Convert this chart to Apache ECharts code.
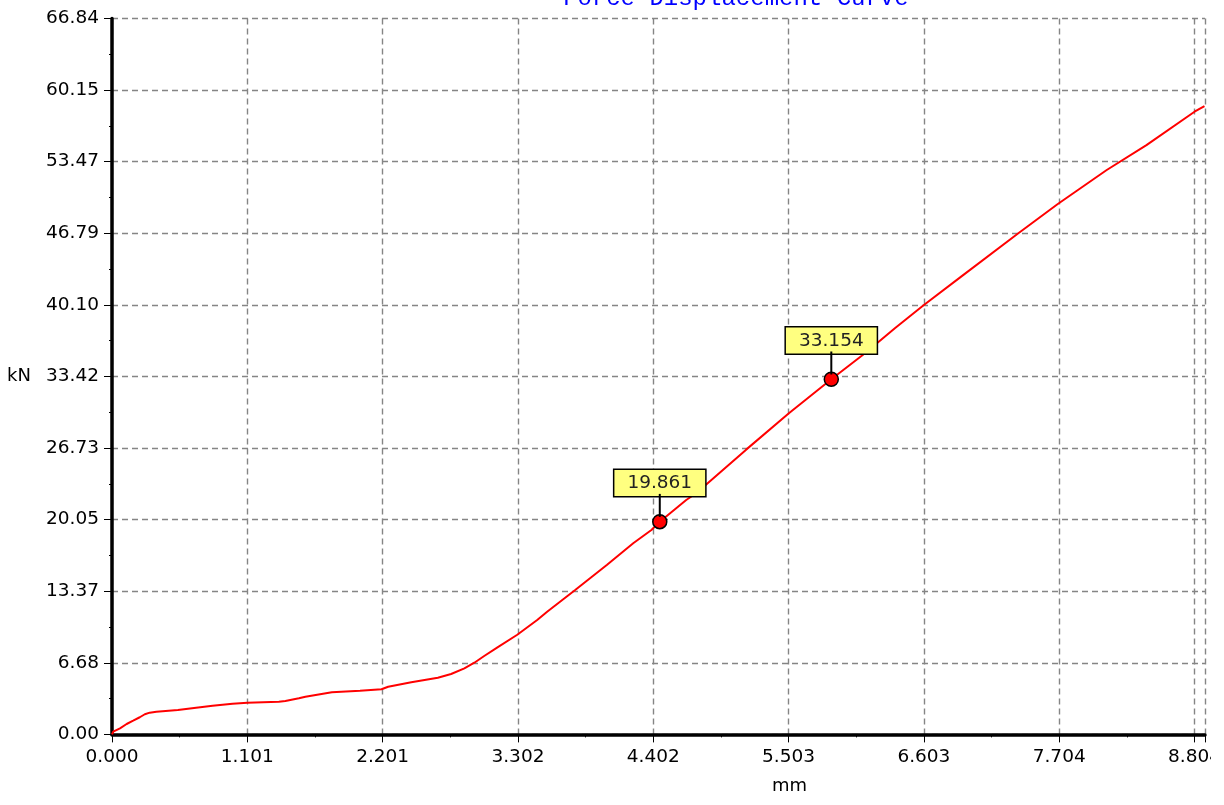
<!DOCTYPE html>
<html>
<head>
<meta charset="utf-8">
<script src="https://cdn.jsdelivr.net/npm/echarts@6/dist/echarts.min.js"></script>
<style>
html,body{margin:0;padding:0;background:#fff;}
#chart{width:1224px;height:805px;}
</style>
</head>
<body>
<div id="chart"></div>
<script>
// Displacement (mm) and force (kN)
const displacement = [0, 0.01, 0.065, 0.119, 0.172, 0.226, 0.267, 0.307, 0.361, 0.536, 0.684, 0.818, 0.98, 1.101,
  1.357, 1.41, 1.52, 1.573, 1.788, 2.017, 2.192, 2.246, 2.434, 2.65, 2.758, 2.866, 2.947, 3.027, 3.135,
  3.296, 3.458, 3.539, 3.767, 4.024, 4.239, 4.387, 4.455, 4.670, 4.751, 5.155, 5.505, 5.850, 6.124,
  6.367, 6.603, 6.906, 7.363, 7.692, 8.090, 8.413, 8.804, 8.885];
const force = [0, 0.25, 0.57, 0.97, 1.28, 1.60, 1.88, 2.03, 2.12, 2.28, 2.49, 2.68, 2.87, 2.96,
  3.05, 3.12, 3.37, 3.52, 3.93, 4.08, 4.21, 4.45, 4.86, 5.29, 5.64, 6.17, 6.69, 7.32, 8.13,
  9.30, 10.68, 11.45, 13.48, 15.81, 17.84, 19.08, 19.86, 21.88, 22.51, 26.56, 29.98, 33.15, 35.58,
  37.91, 40.09, 42.73, 46.71, 49.51, 52.69, 55.01, 58.13, 58.66];
// Marked points
const markX = [4.455, 5.850];
const markY = [19.861, 33.154];
const markLabels = ['19.861', '33.154'];
// Tick labels
const xTickLabels = ['0.000', '1.101', '2.201', '3.302', '4.402', '5.503', '6.603', '7.704', '8.804'];
const yTickLabels = ['0.00', '6.68', '13.37', '20.05', '26.73', '33.42', '40.10', '46.79', '53.47', '60.15', '66.84'];
const xInterval = 1.1005;
const yInterval = 6.684;

const font = 'DejaVu Sans';
const chart = echarts.init(document.getElementById('chart'), null, {renderer: 'canvas'});

const curve = displacement.map((x, i) => [x, force[i]]);
const marks = markX.map((x, i) => ({value: [x, markY[i]], name: markLabels[i]}));

chart.setOption({
  animation: false,
  backgroundColor: '#ffffff',
  title: {
    text: 'Force Displacement Curve',
    left: 563,
    top: -13,
    padding: 0,
    textStyle: {fontFamily: 'Liberation Mono', fontSize: 24, fontWeight: 'normal', color: '#0000ff'}
  },
  grid: {left: 112, right: 12, top: 18.4, bottom: 70.6, containLabel: false},
  xAxis: {
    type: 'value',
    min: 0,
    max: 8.889,
    interval: xInterval,
    name: 'mm',
    nameLocation: 'middle',
    nameGap: 43,
    nameTextStyle: {fontFamily: font, fontSize: 18, color: '#000', padding: [0, 0, 0, 262]},
    axisLine: {show: true, onZero: false, lineStyle: {color: '#000', width: 3.5}},
    axisTick: {show: true, length: 8, lineStyle: {color: '#000', width: 1}},
    minorTick: {show: true, splitNumber: 2, length: 3, lineStyle: {color: '#000', width: 1}},
    axisLabel: {
      fontFamily: font, fontSize: 18.5, color: '#000', margin: 13, showMaxLabel: false,
      formatter: v => { const i = Math.round(v / xInterval); return xTickLabels[i] !== undefined && Math.abs(v - i * xInterval) < 1e-6 ? xTickLabels[i] : ''; }
    },
    splitLine: {show: true, lineStyle: {color: '#858585', width: 1.4, type: [6, 4]}}
  },
  yAxis: {
    type: 'value',
    min: 0,
    max: 66.84,
    interval: yInterval,
    name: 'kN',
    nameLocation: 'middle',
    nameRotate: 0,
    nameGap: 81,
    nameTextStyle: {fontFamily: font, fontSize: 18, color: '#000'},
    axisLine: {show: true, onZero: false, lineStyle: {color: '#000', width: 3.5}},
    axisTick: {show: true, length: 8, lineStyle: {color: '#000', width: 1}},
    minorTick: {show: true, splitNumber: 2, length: 3, lineStyle: {color: '#000', width: 1}},
    axisLabel: {
      fontFamily: font, fontSize: 18.5, color: '#000', margin: 13,
      formatter: v => { const i = Math.round(v / yInterval); return yTickLabels[i] !== undefined ? yTickLabels[i] : ''; }
    },
    splitLine: {show: true, lineStyle: {color: '#858585', width: 1.4, type: [6, 4]}}
  },
  graphic: [{
    type: 'rect', right: 0, top: 0, z: 100,
    shape: {width: 13, height: 805},
    style: {fill: '#ffffff'}
  }],
  series: [{
    type: 'line',
    data: curve,
    showSymbol: false,
    symbol: 'none',
    lineStyle: {color: '#ff0000', width: 2},
    z: 3
  }, {
    type: 'scatter',
    data: marks,
    symbol: 'circle',
    symbolSize: 14,
    itemStyle: {color: '#ff0000', borderColor: '#000', borderWidth: 1.5, opacity: 1},
    z: 5,
    label: {
      show: true,
      position: 'top',
      distance: -3,
      formatter: p => '{box|' + p.name + '}\n{stem|}',
      rich: {
        box: {
          fontFamily: font, fontSize: 18.5, color: '#222', align: 'center',
          backgroundColor: '#ffff80', borderColor: '#000', borderWidth: 1.5,
          padding: [4, 13, 3, 13], lineHeight: 22
        },
        stem: {width: 2, height: 23, backgroundColor: '#000', align: 'center'}
      }
    }
  }]
});
</script>
</body>
</html>
